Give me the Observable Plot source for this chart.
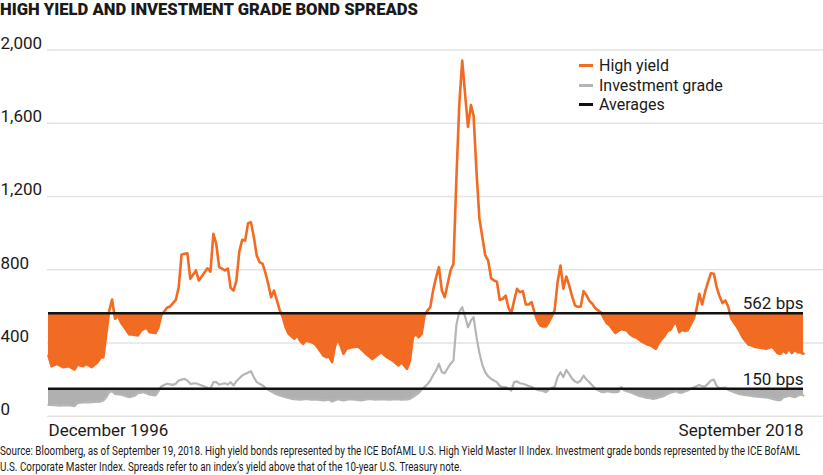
<!DOCTYPE html>
<html>
<head>
<meta charset="utf-8">
<script src="https://cdn.jsdelivr.net/npm/d3@7"></script>
<script src="https://cdn.jsdelivr.net/npm/@observablehq/plot@0.6"></script>
<style>
  html, body { margin: 0; padding: 0; background: #fff; }
  body { width: 823px; height: 475px; position: relative; overflow: hidden; font-family: Roboto, "Noto Sans", sans-serif; color: #1a1a1a; }
  #title { position: absolute; left: 0; top: 0px; font-size: 16.5px; font-weight: 900; white-space: nowrap; transform-origin: 0 0; }
  #chart { position: absolute; left: 0; top: 28px; }
  #legend { position: absolute; left: 579px; top: 56px; font-size: 16px; line-height: 19.5px; }
  #legend .item { display: flex; align-items: center; white-space: nowrap; }
  #legend .sw { width: 14px; height: 3px; margin-right: 6px; }
  #caption { position: absolute; left: 0; top: 443px; font-family: Roboto, sans-serif; font-size: 12.5px; line-height: 16px; color: #1a1a1a; }
  #caption div { white-space: nowrap; transform-origin: 0 0; width: max-content; }
</style>
</head>
<body>
<div id="title"></div>
<div id="chart"></div>
<div id="legend"></div>
<div id="caption"></div>
<script>
// ---- Data ----
const titleText = "HIGH YIELD AND INVESTMENT GRADE BOND SPREADS";
const captionLines = [
  "Source: Bloomberg, as of September 19, 2018. High yield bonds represented by the ICE BofAML U.S. High Yield Master II Index. Investment grade bonds represented by the ICE BofAML",
  "U.S. Corporate Master Index. Spreads refer to an index\u2019s yield above that of the 10-year U.S. Treasury note."
];
const seriesNames = ["High yield", "Investment grade", "Averages"];
const seriesColors = ["#f26b22", "#b5b5b5", "#111111"];
const yTicks = [0, 400, 800, 1200, 1600, 2000];
const xTickDates = ["1996-12", "2018-09"];
const xTickLabels = ["December 1996", "September 2018"];
const averageValues = [562, 150];
const averageLabels = ["562 bps", "150 bps"];

const highYield = [
["1996-12",331],["1997-01",273],["1997-03",286],["1997-05",268],["1997-07",273],["1997-09",255],["1997-10",282],["1997-12",273],["1998-01",286],["1998-03",268],["1998-05",295],["1998-06",319],["1998-07",322],["1998-08",450],["1998-09",577],["1998-10",637],["1998-11",532],["1998-12",550],["1999-01",513],["1999-02",490],["1999-04",446],["1999-05",446],["1999-07",441],["1999-08",468],["1999-09",477],["1999-10",482],["1999-11",459],["2000-01",454],["2000-02",486],["2000-03",550],["2000-05",592],["2000-06",599],["2000-08",635],["2000-09",704],["2000-10",883],["2000-12",890],["2001-01",750],["2001-03",796],["2001-04",741],["2001-06",786],["2001-07",808],["2001-08",790],["2001-09",996],["2001-10",941],["2001-11",814],["2002-01",796],["2002-02",806],["2002-03",701],["2002-04",686],["2002-05",741],["2002-06",900],["2002-07",963],["2002-08",959],["2002-09",1054],["2002-10",1059],["2002-11",977],["2002-12",877],["2003-01",841],["2003-02",832],["2003-03",786],["2003-04",723],["2003-05",650],["2003-06",686],["2003-07",632],["2003-08",577],["2003-09",541],["2003-10",486],["2003-11",450],["2004-01",423],["2004-02",441],["2004-03",413],["2004-04",395],["2004-05",413],["2004-07",404],["2004-08",395],["2004-09",377],["2004-11",331],["2004-12",322],["2005-01",325],["2005-02",295],["2005-03",377],["2005-04",423],["2005-05",386],["2005-06",341],["2005-07",368],["2005-09",377],["2005-11",381],["2005-12",368],["2006-02",337],["2006-04",313],["2006-06",337],["2006-07",350],["2006-09",322],["2006-11",304],["2007-01",277],["2007-02",295],["2007-03",277],["2007-04",259],["2007-05",304],["2007-06",431],["2007-07",450],["2007-08",431],["2007-09",450],["2007-10",550],["2007-11",577],["2007-12",595],["2008-01",690],["2008-02",760],["2008-03",814],["2008-04",686],["2008-05",650],["2008-06",723],["2008-07",796],["2008-08",832],["2008-09",1300],["2008-10",1700],["2008-11",1942],["2008-12",1760],["2009-01",1580],["2009-02",1700],["2009-03",1640],["2009-04",1330],["2009-05",1080],["2009-06",977],["2009-07",880],["2009-08",850],["2009-09",755],["2009-10",741],["2009-11",735],["2009-12",635],["2010-01",641],["2010-02",659],["2010-03",595],["2010-04",562],["2010-05",630],["2010-06",696],["2010-07",677],["2010-08",683],["2010-09",610],["2010-10",610],["2010-11",623],["2010-12",568],["2011-01",523],["2011-02",495],["2011-03",490],["2011-04",490],["2011-05",513],["2011-06",545],["2011-07",577],["2011-08",730],["2011-09",823],["2011-10",696],["2011-11",763],["2011-12",714],["2012-01",655],["2012-02",605],["2012-03",597],["2012-04",599],["2012-05",683],["2012-06",660],["2012-07",630],["2012-08",614],["2012-09",590],["2012-10",578],["2012-11",566],["2012-12",535],["2013-01",508],["2013-02",495],["2013-03",475],["2013-04",455],["2013-05",466],["2013-06",476],["2013-07",472],["2013-08",468],["2013-09",448],["2013-10",437],["2013-11",431],["2013-12",420],["2014-01",408],["2014-02",400],["2014-03",392],["2014-04",388],["2014-05",378],["2014-06",368],["2014-07",400],["2014-08",420],["2014-09",440],["2014-10",465],["2014-11",472],["2014-12",500],["2015-01",513],["2015-02",459],["2015-03",472],["2015-04",466],["2015-05",470],["2015-06",500],["2015-07",530],["2015-08",580],["2015-09",668],["2015-10",610],["2015-11",680],["2015-12",732],["2016-01",781],["2016-02",778],["2016-03",705],["2016-04",655],["2016-05",618],["2016-06",632],["2016-07",598],["2016-08",535],["2016-09",510],["2016-10",488],["2016-11",460],["2016-12",430],["2017-01",410],["2017-02",391],["2017-03",387],["2017-04",380],["2017-05",377],["2017-06",374],["2017-07",372],["2017-08",368],["2017-09",372],["2017-10",381],["2017-11",365],["2017-12",345],["2018-01",340],["2018-02",359],["2018-03",345],["2018-04",368],["2018-05",345],["2018-06",363],["2018-07",350],["2018-08",348],["2018-09",341]
];

const investmentGrade = [
["1996-12",62],["1997-02",60],["1997-04",58],["1997-06",60],["1997-08",57],["1997-09",55],["1997-10",72],["1997-12",75],["1998-02",76],["1998-04",78],["1998-06",80],["1998-07",86],["1998-08",104],["1998-09",131],["1998-10",137],["1998-11",122],["1999-01",117],["1999-02",113],["1999-04",104],["1999-06",113],["1999-07",126],["1999-09",131],["1999-11",117],["2000-01",113],["2000-02",137],["2000-03",162],["2000-04",170],["2000-05",177],["2000-07",171],["2000-08",177],["2000-09",195],["2000-10",200],["2000-11",204],["2000-12",195],["2001-01",177],["2001-03",180],["2001-05",168],["2001-07",155],["2001-08",150],["2001-09",186],["2001-10",186],["2001-11",173],["2002-01",180],["2002-02",173],["2002-03",186],["2002-04",168],["2002-05",191],["2002-07",222],["2002-08",231],["2002-10",246],["2002-11",213],["2002-12",186],["2003-02",168],["2003-03",155],["2003-04",144],["2003-06",126],["2003-08",113],["2003-10",104],["2003-12",95],["2004-03",90],["2004-05",95],["2004-07",90],["2004-09",90],["2004-11",86],["2005-01",90],["2005-02",80],["2005-04",93],["2005-06",86],["2005-08",93],["2005-10",90],["2005-12",86],["2006-03",95],["2006-05",90],["2006-07",93],["2006-10",90],["2006-12",93],["2007-02",90],["2007-04",92],["2007-05",95],["2007-06",104],["2007-08",126],["2007-09",145],["2007-10",159],["2007-11",175],["2007-12",195],["2008-01",225],["2008-02",250],["2008-03",286],["2008-04",240],["2008-05",235],["2008-06",262],["2008-07",286],["2008-08",304],["2008-09",500],["2008-10",570],["2008-11",595],["2008-12",545],["2009-01",486],["2009-02",523],["2009-03",541],["2009-04",430],["2009-05",345],["2009-06",280],["2009-07",240],["2009-08",218],["2009-09",204],["2009-10",195],["2009-11",186],["2009-12",165],["2010-01",159],["2010-02",159],["2010-03",150],["2010-04",140],["2010-05",186],["2010-06",190],["2010-07",180],["2010-08",177],["2010-09",172],["2010-10",165],["2010-11",160],["2010-12",150],["2011-01",144],["2011-02",141],["2011-03",138],["2011-04",131],["2011-05",145],["2011-06",155],["2011-07",159],["2011-08",213],["2011-09",240],["2011-10",213],["2011-11",253],["2011-12",231],["2012-01",205],["2012-02",190],["2012-03",183],["2012-04",195],["2012-05",222],["2012-06",200],["2012-07",185],["2012-08",168],["2012-09",150],["2012-10",141],["2012-11",133],["2012-12",131],["2013-01",137],["2013-02",134],["2013-03",131],["2013-04",131],["2013-05",133],["2013-06",159],["2013-07",142],["2013-08",137],["2013-09",131],["2013-10",125],["2013-11",118],["2013-12",112],["2014-01",108],["2014-02",104],["2014-03",100],["2014-04",98],["2014-05",95],["2014-06",97],["2014-07",102],["2014-08",106],["2014-09",112],["2014-10",122],["2014-11",128],["2014-12",133],["2015-01",137],["2015-02",128],["2015-03",128],["2015-04",135],["2015-05",140],["2015-06",150],["2015-07",157],["2015-08",163],["2015-09",171],["2015-10",163],["2015-11",162],["2015-12",178],["2016-01",195],["2016-02",200],["2016-03",165],["2016-04",152],["2016-05",155],["2016-06",156],["2016-07",143],["2016-08",138],["2016-09",131],["2016-10",126],["2016-11",120],["2016-12",118],["2017-01",115],["2017-02",113],["2017-03",111],["2017-04",108],["2017-05",107],["2017-06",105],["2017-07",104],["2017-08",102],["2017-09",100],["2017-10",96],["2017-11",92],["2017-12",88],["2018-01",88],["2018-02",102],["2018-03",106],["2018-04",112],["2018-05",108],["2018-06",104],["2018-07",112],["2018-08",117],["2018-09",113]
];

// ---- Build ----
const parse = d3.utcParse("%Y-%m");
const hy = highYield.map(([d, v]) => ({date: parse(d), value: v}));
const ig = investmentGrade.map(([d, v]) => ({date: parse(d), value: v}));
const xStart = parse(xTickDates[0]);
const xEnd = parse(xTickDates[1]);
const [orange, gray, black] = seriesColors;
const grayFill = "#b0b0b0";

const titleEl = document.getElementById("title");
titleEl.textContent = titleText;
const capEl = document.getElementById("caption");
capEl.innerHTML = captionLines.map(s => `<div>${s}</div>`).join("");
document.getElementById("legend").innerHTML = seriesNames.map((n, i) =>
  `<div class="item"><span class="sw" style="background:${seriesColors[i]}"></span><span>${n}</span></div>`).join("");

// fit the condensed caption and the title to the widths seen in the reference
const capDivs = capEl.querySelectorAll("div");
const k = 800 / capDivs[0].getBoundingClientRect().width;
capDivs.forEach(d => d.style.transform = `scaleX(${k})`);
const tw = titleEl.getBoundingClientRect().width;
titleEl.style.transform = `scaleX(${418 / tw})`;

const chart = Plot.plot({
  width: 823,
  height: 418,
  marginTop: 21.5,
  marginBottom: 30.3,
  marginLeft: 48,
  marginRight: 20,
  x: {type: "utc", domain: [xStart, xEnd], axis: null},
  y: {domain: [0, 2000], axis: null},
  style: {fontFamily: "Roboto, 'Noto Sans', sans-serif", fontSize: "17px", color: "#1a1a1a", background: "transparent", overflow: "visible"},
  marks: [
    Plot.ruleY(yTicks, {stroke: "#e3e3e3", strokeWidth: 1.5, insetLeft: -1, insetRight: -20}),
    Plot.text(yTicks, {y: d => d, frameAnchor: "left", textAnchor: "start", lineAnchor: "bottom", dx: -48, dy: -1, text: d => d3.format(",")(d), fill: "#1a1a1a", fontSize: 17}),
    Plot.areaY(hy, {x: "date", y1: averageValues[0], y2: "value", fill: orange}),
    Plot.areaY(ig, {x: "date", y1: averageValues[1], y2: "value", fill: grayFill}),
    Plot.lineY(ig, {x: "date", y: "value", stroke: gray, strokeWidth: 2.2}),
    Plot.lineY(hy, {x: "date", y: "value", stroke: orange, strokeWidth: 2.6}),
    Plot.ruleY(averageValues, {stroke: black, strokeWidth: 2.4}),
    Plot.text(averageValues, {x: () => xEnd, y: d => d, text: (d, i) => averageLabels[i], textAnchor: "end", lineAnchor: "bottom", dy: -4, fill: "#1a1a1a", fontSize: 17}),
    Plot.text([xTickLabels[0]], {x: () => xStart, frameAnchor: "bottom", text: d => d, textAnchor: "start", lineAnchor: "middle", dy: 14, fill: "#1a1a1a", fontSize: 17}),
    Plot.text([xTickLabels[1]], {x: () => xEnd, frameAnchor: "bottom", text: d => d, textAnchor: "end", lineAnchor: "middle", dy: 14, fill: "#1a1a1a", fontSize: 17})
  ]
});

// Keep only the part of each area that lies below its average (nested svg viewport clips)
const yScale = chart.scale("y");
const ns = "http://www.w3.org/2000/svg";
const areaGroups = Array.from(chart.querySelectorAll('g[aria-label="area"]'));
areaGroups.forEach((g, i) => {
  const top = yScale.apply(averageValues[i]);
  const h = yScale.apply(0) + 6 - top;
  const s = document.createElementNS(ns, "svg");
  s.setAttribute("x", 0);
  s.setAttribute("y", top);
  s.setAttribute("width", 823);
  s.setAttribute("height", h);
  s.setAttribute("viewBox", `0 ${top} 823 ${h}`);
  s.setAttribute("overflow", "hidden");
  s.style.overflow = "hidden";
  g.parentNode.insertBefore(s, g);
  s.appendChild(g);
});

document.getElementById("chart").appendChild(chart);
</script>
</body>
</html>
